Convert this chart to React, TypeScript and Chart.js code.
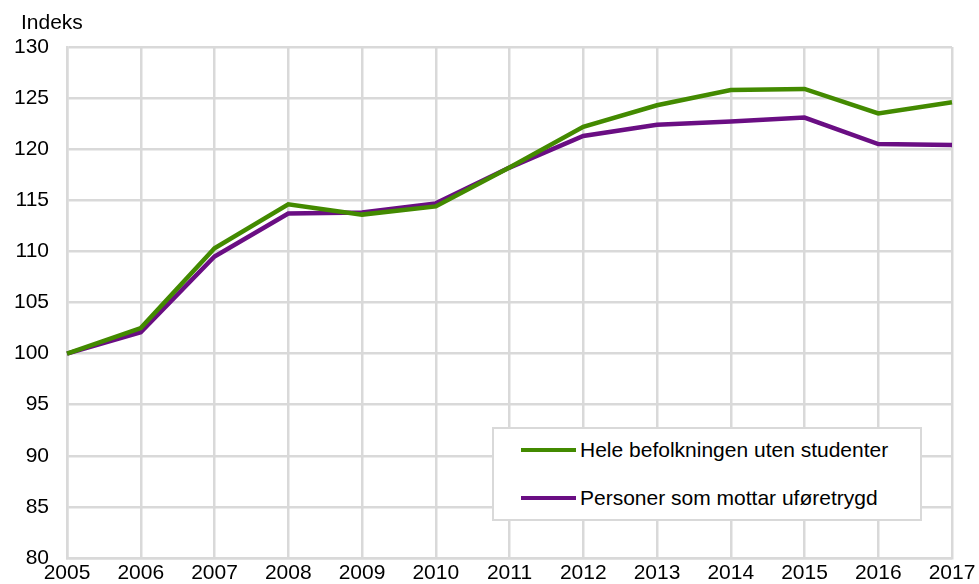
import React, { useEffect, useRef } from "react";
import { Chart, registerables } from "chart.js";

Chart.register(...registerables);

const years = ["2005", "2006", "2007", "2008", "2009", "2010", "2011", "2012", "2013", "2014", "2015", "2016", "2017"];
const heleBefolkningen = [100, 102.5, 110.3, 114.6, 113.6, 114.4, 118.2, 122.2, 124.3, 125.8, 125.9, 123.5, 124.6];
const uforetrygd = [100, 102.1, 109.5, 113.7, 113.8, 114.7, 118.2, 121.3, 122.4, 122.7, 123.1, 120.5, 120.4];
const seriesLabels = ["Hele befolkningen uten studenter", "Personer som mottar uføretrygd"];
const seriesColors = ["#438a00", "#6a0e83"];
const yAxisTitle = "Indeks";

const FONT = "'Liberation Sans', Arial, sans-serif";

export default function App() {
  const canvasRef = useRef<HTMLCanvasElement | null>(null);

  useEffect(() => {
    if (!canvasRef.current) return;
    const chart = new Chart(canvasRef.current, {
      type: "line",
      data: {
        labels: years,
        datasets: [
          {
            label: seriesLabels[0],
            data: heleBefolkningen,
            borderColor: seriesColors[0],
            backgroundColor: seriesColors[0],
            borderWidth: 4.5,
            pointRadius: 0,
            tension: 0,
          },
          {
            label: seriesLabels[1],
            data: uforetrygd,
            borderColor: seriesColors[1],
            backgroundColor: seriesColors[1],
            borderWidth: 4.5,
            pointRadius: 0,
            tension: 0,
          },
        ],
      },
      options: {
        animation: false,
        responsive: false,
        maintainAspectRatio: false,
        layout: { padding: { top: 47, right: 27, bottom: 0, left: 0 } },
        plugins: {
          legend: { display: false },
          tooltip: { enabled: false },
        },
        scales: {
          x: {
            type: "category",
            offset: false,
            grid: { color: "#d9d9d9", lineWidth: 2.5, drawTicks: false },
            border: { color: "#d9d9d9", width: 2.5 },
            ticks: {
              color: "#000",
              font: { family: FONT, size: 21 },
              padding: 3,
              maxRotation: 0,
              autoSkip: false,
            },
            afterFit: (scale: any) => {
              scale.height = 26;
            },
          },
          y: {
            min: 80,
            max: 130,
            grid: {
              color: "#d9d9d9",
              lineWidth: 2.5,
              drawTicks: true,
              tickLength: 18,
              tickColor: "rgba(0,0,0,0)",
            },
            border: { color: "#d9d9d9", width: 2.5 },
            ticks: {
              stepSize: 5,
              color: "#000",
              font: { family: FONT, size: 21 },
              padding: 0,
            },
            afterFit: (scale: any) => {
              scale.width = 67;
            },
          },
        },
      },
    });
    return () => chart.destroy();
  }, []);

  const legendLine = (color: string) => (
    <span
      style={{
        display: "inline-block",
        width: 55,
        height: 4,
        background: color,
        marginRight: 4,
        verticalAlign: "middle",
      }}
    />
  );

  return (
    <div style={{ position: "absolute", left: 0, top: 0, width: 979, height: 584, background: "#fff" }}>
      <canvas ref={canvasRef} width={979} height={584} style={{ display: "block" }} />
      <div
        style={{
          position: "absolute",
          left: 21,
          top: 10,
          fontFamily: FONT,
          fontSize: 21,
          color: "#000",
          lineHeight: "24px",
        }}
      >
        {yAxisTitle}
      </div>
      <div
        style={{
          position: "absolute",
          left: 492,
          top: 427,
          width: 426,
          height: 90,
          border: "2px solid #d9d9d9",
          background: "#fff",
          fontFamily: FONT,
          fontSize: 21,
          color: "#000",
        }}
      >
        {seriesLabels.map((label, i) => (
          <div
            key={label}
            style={{
              position: "absolute",
              left: 27,
              top: i === 0 ? 10 : 58,
              height: 22,
              lineHeight: "22px",
              whiteSpace: "nowrap",
              display: "flex",
              alignItems: "center",
            }}
          >
            {legendLine(seriesColors[i])}
            <span>{label}</span>
          </div>
        ))}
      </div>
    </div>
  );
}
